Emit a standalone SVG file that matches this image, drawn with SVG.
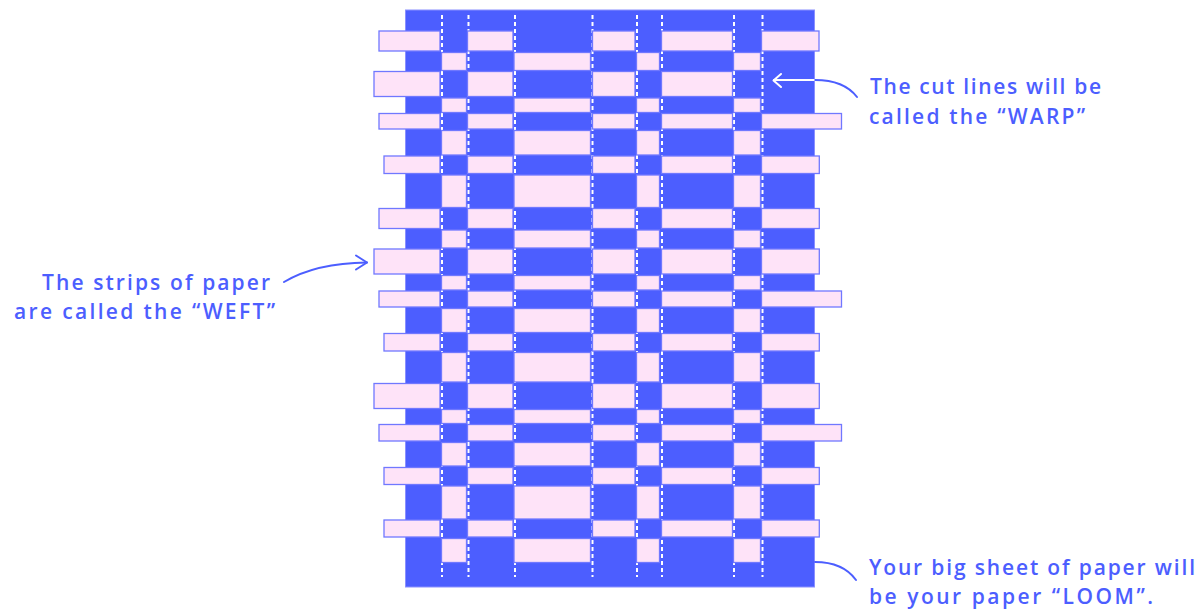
<svg xmlns="http://www.w3.org/2000/svg" width="1201" height="614" viewBox="0 0 1201 614">
<style>
.loom{fill:#4c5eff;stroke:#8a90ff;stroke-width:1}
.warp{stroke:#ffffff;stroke-width:2;stroke-dasharray:4 3}
.p{fill:#fee3f8;stroke:#7078ff;stroke-width:1.3}
.lbl{font-family:"Open Sans","Liberation Sans",sans-serif;font-size:21px;font-weight:600;fill:#4c5eff}
.conn{fill:none;stroke:#4c5eff;stroke-width:2;stroke-linecap:round;stroke-linejoin:round}
.connw{fill:none;stroke:#ffffff;stroke-width:2;stroke-linecap:round;stroke-linejoin:round}
</style>
<defs>
<clipPath id="loomClip"><rect x="405.5" y="10" width="409" height="577"/></clipPath>
</defs>
<rect width="1201" height="614" fill="#ffffff"/>
<g id="loom">
<rect class="loom" x="405.5" y="10" width="409" height="577"/>
</g>
<g id="warp-lines">
<line class="warp" x1="442" y1="15" x2="442" y2="577"/>
<line class="warp" x1="468.5" y1="15" x2="468.5" y2="577"/>
<line class="warp" x1="515" y1="15" x2="515" y2="577"/>
<line class="warp" x1="592.5" y1="15" x2="592.5" y2="577"/>
<line class="warp" x1="637" y1="15" x2="637" y2="577"/>
<line class="warp" x1="662" y1="15" x2="662" y2="577"/>
<line class="warp" x1="734" y1="15" x2="734" y2="577"/>
<line class="warp" x1="762.5" y1="15" x2="762.5" y2="577"/>
</g>
<g id="warp-cells">
<g><rect class="p" x="441.5" y="52.5" width="25" height="18"/><rect class="p" x="514" y="52.5" width="76.5" height="18"/><rect class="p" x="636.5" y="52.5" width="23" height="18"/><rect class="p" x="733.5" y="52.5" width="27" height="18"/></g>
<g><rect class="p" x="441.5" y="98" width="25" height="14.5"/><rect class="p" x="514" y="98" width="76.5" height="14.5"/><rect class="p" x="636.5" y="98" width="23" height="14.5"/><rect class="p" x="733.5" y="98" width="27" height="14.5"/></g>
<g><rect class="p" x="441.5" y="130.5" width="25" height="24.5"/><rect class="p" x="514" y="130.5" width="76.5" height="24.5"/><rect class="p" x="636.5" y="130.5" width="23" height="24.5"/><rect class="p" x="733.5" y="130.5" width="27" height="24.5"/></g>
<g><rect class="p" x="441.5" y="175" width="25" height="32.5"/><rect class="p" x="514" y="175" width="76.5" height="32.5"/><rect class="p" x="636.5" y="175" width="23" height="32.5"/><rect class="p" x="733.5" y="175" width="27" height="32.5"/></g>
<g><rect class="p" x="441.5" y="230" width="25" height="18"/><rect class="p" x="514" y="230" width="76.5" height="18"/><rect class="p" x="636.5" y="230" width="23" height="18"/><rect class="p" x="733.5" y="230" width="27" height="18"/></g>
<g><rect class="p" x="441.5" y="275.5" width="25" height="14.5"/><rect class="p" x="514" y="275.5" width="76.5" height="14.5"/><rect class="p" x="636.5" y="275.5" width="23" height="14.5"/><rect class="p" x="733.5" y="275.5" width="27" height="14.5"/></g>
<g><rect class="p" x="441.5" y="308.5" width="25" height="24"/><rect class="p" x="514" y="308.5" width="76.5" height="24"/><rect class="p" x="636.5" y="308.5" width="23" height="24"/><rect class="p" x="733.5" y="308.5" width="27" height="24"/></g>
<g><rect class="p" x="441.5" y="352.5" width="25" height="29.5"/><rect class="p" x="514" y="352.5" width="76.5" height="29.5"/><rect class="p" x="636.5" y="352.5" width="23" height="29.5"/><rect class="p" x="733.5" y="352.5" width="27" height="29.5"/></g>
<g><rect class="p" x="441.5" y="409.5" width="25" height="14"/><rect class="p" x="514" y="409.5" width="76.5" height="14"/><rect class="p" x="636.5" y="409.5" width="23" height="14"/><rect class="p" x="733.5" y="409.5" width="27" height="14"/></g>
<g><rect class="p" x="441.5" y="442.5" width="25" height="23.5"/><rect class="p" x="514" y="442.5" width="76.5" height="23.5"/><rect class="p" x="636.5" y="442.5" width="23" height="23.5"/><rect class="p" x="733.5" y="442.5" width="27" height="23.5"/></g>
<g><rect class="p" x="441.5" y="486" width="25" height="33"/><rect class="p" x="514" y="486" width="76.5" height="33"/><rect class="p" x="636.5" y="486" width="23" height="33"/><rect class="p" x="733.5" y="486" width="27" height="33"/></g>
<g><rect class="p" x="441.5" y="538.5" width="25" height="24"/><rect class="p" x="514" y="538.5" width="76.5" height="24"/><rect class="p" x="636.5" y="538.5" width="23" height="24"/><rect class="p" x="733.5" y="538.5" width="27" height="24"/></g>
</g>
<g id="weft-strips">
<g id="weft-1"><rect class="p" x="379" y="31" width="61" height="20"/><rect class="p" x="467.5" y="31" width="45.5" height="20"/><rect class="p" x="592.5" y="31" width="42.5" height="20"/><rect class="p" x="661.5" y="31" width="71" height="20"/><rect class="p" x="761.5" y="31" width="57.5" height="20"/></g>
<g id="weft-2"><rect class="p" x="374" y="71.5" width="66" height="25"/><rect class="p" x="467.5" y="71.5" width="45.5" height="25"/><rect class="p" x="592.5" y="71.5" width="42.5" height="25"/><rect class="p" x="661.5" y="71.5" width="71" height="25"/></g>
<g id="weft-3"><rect class="p" x="379" y="113.5" width="61" height="15.5"/><rect class="p" x="467.5" y="113.5" width="45.5" height="15.5"/><rect class="p" x="592.5" y="113.5" width="42.5" height="15.5"/><rect class="p" x="661.5" y="113.5" width="71" height="15.5"/><rect class="p" x="761.5" y="113.5" width="80" height="15.5"/></g>
<g id="weft-4"><rect class="p" x="384" y="156" width="56" height="17.5"/><rect class="p" x="467.5" y="156" width="45.5" height="17.5"/><rect class="p" x="592.5" y="156" width="42.5" height="17.5"/><rect class="p" x="661.5" y="156" width="71" height="17.5"/><rect class="p" x="761.5" y="156" width="57.8" height="17.5"/></g>
<g id="weft-5"><rect class="p" x="379" y="208.5" width="61" height="20"/><rect class="p" x="467.5" y="208.5" width="45.5" height="20"/><rect class="p" x="592.5" y="208.5" width="42.5" height="20"/><rect class="p" x="661.5" y="208.5" width="71" height="20"/><rect class="p" x="761.5" y="208.5" width="57.8" height="20"/></g>
<g id="weft-6"><rect class="p" x="374" y="249" width="66" height="25"/><rect class="p" x="467.5" y="249" width="45.5" height="25"/><rect class="p" x="592.5" y="249" width="42.5" height="25"/><rect class="p" x="661.5" y="249" width="71" height="25"/><rect class="p" x="761.5" y="249" width="57.8" height="25"/></g>
<g id="weft-7"><rect class="p" x="379" y="291" width="61" height="16"/><rect class="p" x="467.5" y="291" width="45.5" height="16"/><rect class="p" x="592.5" y="291" width="42.5" height="16"/><rect class="p" x="661.5" y="291" width="71" height="16"/><rect class="p" x="761.5" y="291" width="80" height="16"/></g>
<g id="weft-8"><rect class="p" x="384" y="333.5" width="56" height="17.5"/><rect class="p" x="467.5" y="333.5" width="45.5" height="17.5"/><rect class="p" x="592.5" y="333.5" width="42.5" height="17.5"/><rect class="p" x="661.5" y="333.5" width="71" height="17.5"/><rect class="p" x="761.5" y="333.5" width="57.8" height="17.5"/></g>
<g id="weft-9"><rect class="p" x="374" y="383.5" width="66" height="25"/><rect class="p" x="467.5" y="383.5" width="45.5" height="25"/><rect class="p" x="592.5" y="383.5" width="42.5" height="25"/><rect class="p" x="661.5" y="383.5" width="71" height="25"/><rect class="p" x="761.5" y="383.5" width="57.8" height="25"/></g>
<g id="weft-10"><rect class="p" x="379" y="424.5" width="61" height="16.5"/><rect class="p" x="467.5" y="424.5" width="45.5" height="16.5"/><rect class="p" x="592.5" y="424.5" width="42.5" height="16.5"/><rect class="p" x="661.5" y="424.5" width="71" height="16.5"/><rect class="p" x="761.5" y="424.5" width="80" height="16.5"/></g>
<g id="weft-11"><rect class="p" x="384" y="467.5" width="56" height="17"/><rect class="p" x="467.5" y="467.5" width="45.5" height="17"/><rect class="p" x="592.5" y="467.5" width="42.5" height="17"/><rect class="p" x="661.5" y="467.5" width="71" height="17"/><rect class="p" x="761.5" y="467.5" width="57.8" height="17"/></g>
<g id="weft-12"><rect class="p" x="384" y="520" width="56" height="17"/><rect class="p" x="467.5" y="520" width="45.5" height="17"/><rect class="p" x="592.5" y="520" width="42.5" height="17"/><rect class="p" x="661.5" y="520" width="71" height="17"/><rect class="p" x="761.5" y="520" width="57.8" height="17"/></g>
</g>
<g id="connectors">
<path class="conn" d="M284,282 Q316,263 367,262.5"/>
<polyline class="conn" points="356,255.5 367,262.5 356,269.5"/>
<path class="conn" d="M857,97 Q844,80 815,80 L774,80"/>
<polyline class="conn" points="781,74 773.5,80.5 781,87"/>
<g clip-path="url(#loomClip)">
<path class="connw" d="M857,97 Q844,80 815,80 L774,80"/>
<polyline class="connw" points="781,74 773.5,80.5 781,87"/>
</g>
<path class="conn" d="M856,580 Q843,562 815,562"/>
</g>
<g id="label-weft">
<text class="lbl" x="42" y="290" textLength="228">The strips of paper</text>
<text class="lbl" x="14" y="318.5" textLength="261">are called the “WEFT”</text>
</g>
<g id="label-warp">
<text class="lbl" x="870" y="94" textLength="231">The cut lines will be</text>
<text class="lbl" x="869" y="123.5" textLength="216">called the “WARP”</text>
</g>
<g id="label-loom">
<text class="lbl" x="869" y="575" textLength="326">Your big sheet of paper will</text>
<text class="lbl" x="869" y="603.5" textLength="284">be your paper “LOOM”.</text>
</g>
</svg>
